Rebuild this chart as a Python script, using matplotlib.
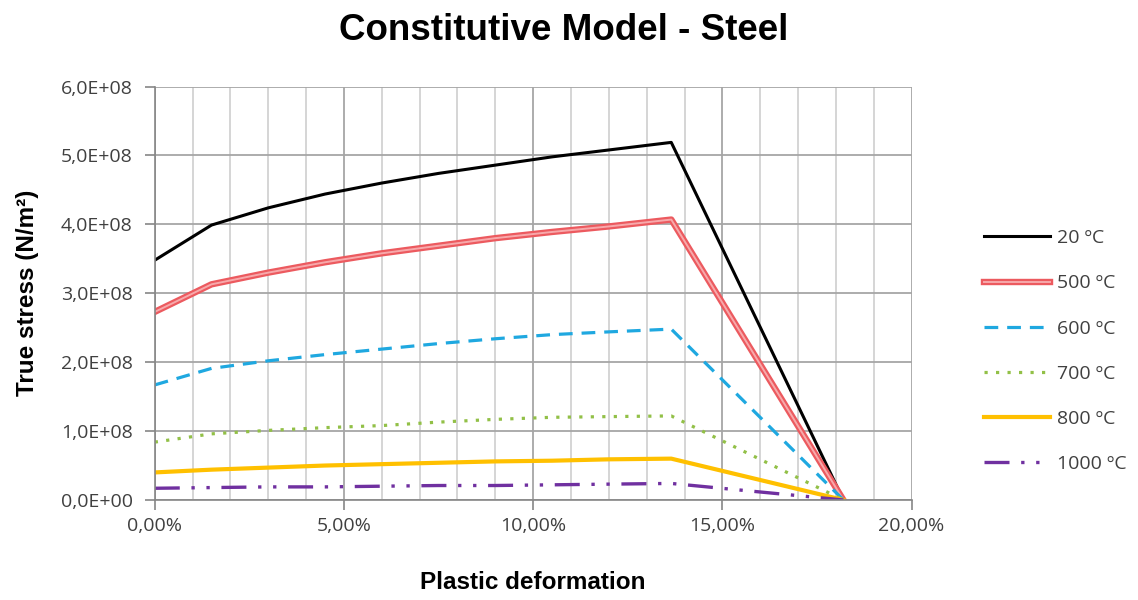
import numpy as np
import matplotlib.pyplot as plt
import matplotlib.patheffects as pe
from matplotlib.ticker import FuncFormatter, MultipleLocator

# plastic strain (%) and true stress (x1E8 N/m2) per temperature
strain = [0.0, 1.5, 3.0, 4.5, 6.0, 7.5, 9.0, 10.5, 12.0, 13.65, 18.2]
labels = ['20 ºC', '500 ºC', '600 ºC', '700 ºC', '800 ºC', '1000 ºC']
s20 = [3.48, 3.99, 4.24, 4.44, 4.60, 4.74, 4.86, 4.98, 5.08, 5.19, 0.0]
s500 = [2.73, 3.13, 3.30, 3.45, 3.58, 3.69, 3.80, 3.89, 3.97, 4.07, 0.0]
s600 = [1.67, 1.91, 2.02, 2.11, 2.19, 2.27, 2.34, 2.40, 2.44, 2.48, 0.0]
s700 = [0.84, 0.96, 1.01, 1.05, 1.08, 1.13, 1.17, 1.20, 1.21, 1.22, 0.0]
s800 = [0.40, 0.44, 0.47, 0.50, 0.52, 0.54, 0.56, 0.57, 0.59, 0.60, 0.0]
s1000 = [0.17, 0.18, 0.19, 0.19, 0.20, 0.21, 0.21, 0.22, 0.23, 0.24, 0.0]

plt.rcParams['font.family'] = ['Open Sans', 'DejaVu Sans']

fig = plt.figure(figsize=(11.38, 6.0), dpi=100)
ax = fig.add_axes([0.136, 0.1667, 0.665, 0.689])

x = np.array(strain) / 100.0
sc = 1e8

ax.plot(x, np.array(s20) * sc, color='black', lw=2.2, label=labels[0])
ax.plot(x, np.array(s500) * sc, color='#f7a9ab', lw=1.4, label=labels[1],
        path_effects=[pe.Stroke(linewidth=4.6, foreground='#ec5a5f'), pe.Normal()])
ax.plot(x, np.array(s600) * sc, color='#1fa8e0', lw=2.3, dashes=(4.3, 2.8), label=labels[2])
ax.plot(x, np.array(s700) * sc, color='#92c047', lw=2.3, dashes=(1.0, 2.6), label=labels[3])
ax.plot(x, np.array(s800) * sc, color='#ffc000', lw=3.0, label=labels[4])
ax.plot(x, np.array(s1000) * sc, color='#7030a0', lw=2.4,
        dashes=(7.5, 3.5, 1.0, 3.5, 1.0, 3.5), label=labels[5])

ax.set_xlim(0, 0.20)
ax.set_ylim(0, 6e8)
ax.xaxis.set_major_locator(MultipleLocator(0.05))
ax.xaxis.set_minor_locator(MultipleLocator(0.01))
ax.yaxis.set_major_locator(MultipleLocator(1e8))

ax.xaxis.set_major_formatter(FuncFormatter(lambda v, p: ('%.2f%%' % (v * 100)).replace('.', ',')))
ax.yaxis.set_major_formatter(FuncFormatter(lambda v, p: ('%.1fE+%02d' % (v / 1e8, 8) if v > 0 else '0,0E+00').replace('.', ',')))

ax.grid(which='major', color='#a6a6a6', lw=1.3)
ax.grid(which='minor', axis='x', color='#d2d2d2', lw=1.3)
ax.set_axisbelow(True)
for side in ['top', 'right']:
    ax.spines[side].set_visible(False)
for side in ['left', 'bottom']:
    ax.spines[side].set_color('#868686')
    ax.spines[side].set_linewidth(1.2)
ax.tick_params(which='major', length=7, width=1.2, color='#868686',
               labelsize=14, labelcolor='#404040', pad=5)
ax.tick_params(axis='y', pad=9)
ax.tick_params(which='minor', length=0)

ax.set_xlabel('Plastic deformation', fontsize=17.5, fontweight='bold',
              family='Liberation Sans', va='center')
ax.xaxis.set_label_coords(0.5, -0.2)
ax.set_ylabel('True stress (N/m²)', fontsize=17.5, fontweight='bold',
              family='Liberation Sans', va='center')
ax.yaxis.set_label_coords(-0.168, 0.5)
fig.text(0.495, 0.95, 'Constitutive Model - Steel', ha='center', va='center',
         fontsize=26.5, fontweight='bold', family='Liberation Sans')

ax.legend(loc='center left', bbox_to_anchor=(1.073, 0.36), frameon=False,
          fontsize=14, handlelength=3.4, labelspacing=1.4, handletextpad=0.35,
          labelcolor='#404040')

fig.savefig('out.png', dpi=100)
